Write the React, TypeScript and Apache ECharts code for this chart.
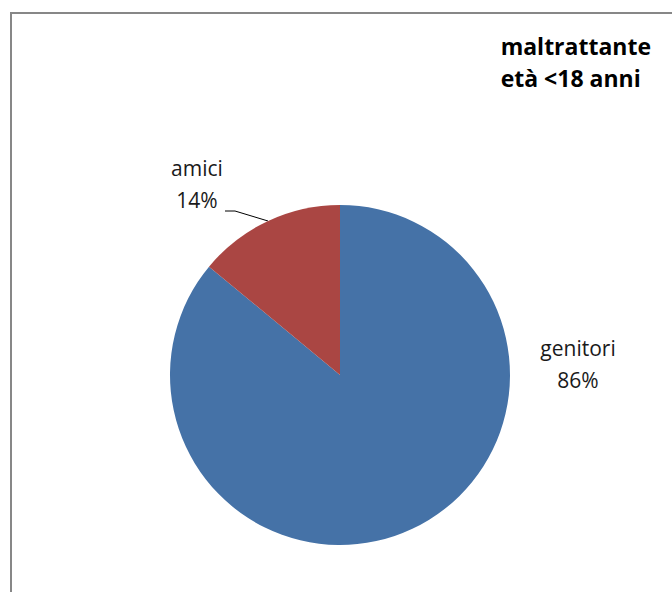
import React, { useEffect, useRef } from "react";
import * as echarts from "echarts";

const categories = ["genitori", "amici"];
const percentages = [86, 14];
const sliceColors = ["#4572A7", "#AA4643"];
const titleLines = ["maltrattante", "età <18 anni"];

export default function App() {
  const ref = useRef<HTMLDivElement>(null);
  useEffect(() => {
    if (!ref.current) return;
    const chart = echarts.init(ref.current, null, { renderer: "svg" });
    const font = "'Open Sans', Lato, sans-serif";
    chart.setOption({
      animation: false,
      backgroundColor: "#ffffff",
      title: {
        text: titleLines.join("\n"),
        right: 21,
        top: 30,
        padding: 0,
        textStyle: {
          fontFamily: font,
          fontWeight: "bold",
          fontSize: 23,
          lineHeight: 32,
          color: "#000000",
          align: "right",
        },
      },
      graphic: [
        {
          type: "rect",
          shape: { x: 11, y: 13, width: 700, height: 620 },
          style: { fill: "none", stroke: "#878787", lineWidth: 2 },
          silent: true,
          z: 10,
        },
      ],
      series: [
        {
          type: "pie",
          center: [340, 375],
          radius: 170,
          startAngle: 90,
          clockwise: true,
          data: categories.map((c, i) => ({
            name: c,
            value: percentages[i],
            itemStyle: { color: sliceColors[i] },
            labelLine: { show: i === 1 },
          })),
          label: {
            show: true,
            position: "outside",
            formatter: (p: any) => `${p.name}\n${p.value}%`,
            fontFamily: font,
            fontSize: 21,
            lineHeight: 32,
            color: "#1a1a1a",
            align: "center",
          },
          labelLine: {
            show: true,
            lineStyle: { color: "#000000", width: 1 },
          },
          labelLayout: (params: any) => {
            if (params.dataIndex === 0) {
              return { x: 578, y: 364, align: "center", verticalAlign: "middle" };
            }
            return {
              x: 197,
              y: 184,
              align: "center",
              verticalAlign: "middle",
              labelLinePoints: [
                [268, 221],
                [235, 211],
                [225, 211],
              ],
            };
          },
        },
      ],
    });
    return () => chart.dispose();
  }, []);
  return (
    <div
      ref={ref}
      style={{ position: "absolute", left: 0, top: 0, width: 672, height: 592 }}
    />
  );
}
